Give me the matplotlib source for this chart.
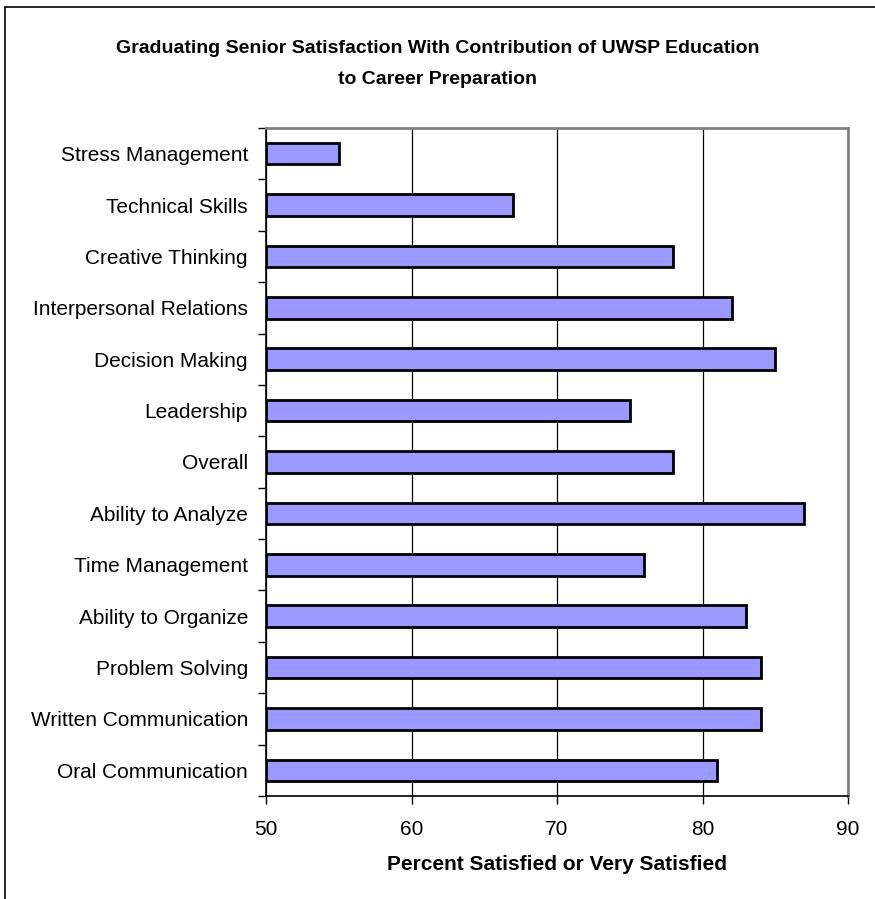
import matplotlib
matplotlib.use("agg")
import matplotlib.pyplot as plt
from matplotlib.patches import Rectangle

categories = ['Oral Communication', 'Written Communication', 'Problem Solving',
              'Ability to Organize', 'Time Management', 'Ability to Analyze',
              'Overall', 'Leadership', 'Decision Making', 'Interpersonal Relations',
              'Creative Thinking', 'Technical Skills', 'Stress Management']
percent = [81, 84, 84, 83, 76, 87, 78, 75, 85, 82, 78, 67, 55]
xticks = [50, 60, 70, 80, 90]

plt.rcParams['font.family'] = ['Liberation Sans', 'DejaVu Sans']

fig = plt.figure(figsize=(8.75, 8.99), dpi=100)
W, H = 875, 899
ax = fig.add_axes([266 / W, 1 - 796 / H, (848 - 266) / W, (796 - 128) / H])

# outer chart frame
fig.patches.append(Rectangle((5 / W, -0.1), 1.2, 1 - 7 / H + 0.1,
                             transform=fig.transFigure, fill=False,
                             edgecolor='black', linewidth=1.2))

ypos = list(range(len(categories)))
ax.barh(ypos, [p - 50 for p in percent], left=50, height=0.42,
        color='#9999ff', edgecolor='black', linewidth=2, zorder=3)

ax.set_xlim(50, 90)
ax.set_ylim(-0.5, len(categories) - 0.5)
ax.set_xticks(xticks)
ax.set_xticklabels([str(t) for t in xticks], fontsize=15)
ax.set_yticks(ypos)
ax.set_yticklabels(categories, fontsize=15)
ax.tick_params(axis='y', length=0, pad=13)
ax.set_yticks([y + 0.5 for y in range(-1, len(categories))], minor=True)
ax.tick_params(axis='y', which='minor', length=6, width=1, direction='out')
ax.tick_params(axis='x', length=6, width=1, direction='out', pad=11)
ax.grid(axis='x', color='black', linewidth=0.9, zorder=0)

ax.spines['top'].set_color('#808080')
ax.spines['right'].set_color('#808080')
ax.spines['top'].set_linewidth(2)
ax.spines['right'].set_linewidth(2)
ax.spines['left'].set_linewidth(1.2)
ax.spines['bottom'].set_linewidth(1.2)

ax.set_xlabel('Percent Satisfied or Very Satisfied', fontsize=15,
              fontweight='bold', labelpad=12)
fig.text(0.5, 1 - 64 / H, 'Graduating Senior Satisfaction With Contribution of UWSP Education\nto Career Preparation',
         ha='center', va='center', fontsize=14, fontweight='bold', linespacing=2.05)

plt.savefig('out.png', dpi=100)
plt.close()
